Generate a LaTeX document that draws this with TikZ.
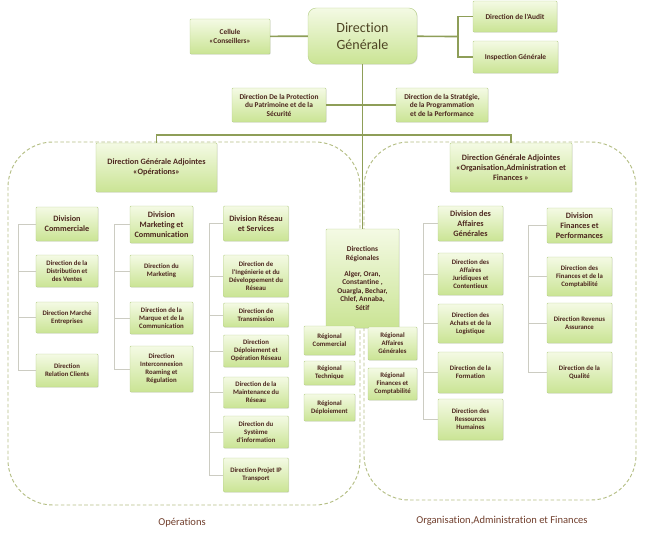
\documentclass[tikz,border=0pt]{standalone}
\usepackage{fontspec}
\newfontfamily\calib[Ligatures=NoCommon]{Carlito}
\usetikzlibrary{shadows}

\definecolor{boxTop}{RGB}{244,250,228}
\definecolor{boxBot}{RGB}{202,228,148}
\definecolor{boxLine}{RGB}{184,208,140}
\definecolor{ink}{RGB}{76,38,30}
\definecolor{chiefInk}{RGB}{78,68,36}
\definecolor{linkCol}{RGB}{142,158,88}
\definecolor{twigCol}{RGB}{204,204,194}
\definecolor{zoneCol}{RGB}{180,190,132}
\definecolor{capCol}{RGB}{112,62,44}

\begin{document}
\begin{tikzpicture}[
    x=0.03cm, y=-0.03cm,
    wh/.style 2 args={minimum width=#1*0.3mm, minimum height=#2*0.3mm},
    unit/.style={
        draw=boxLine,
        top color=boxTop,
        bottom color=boxBot,
        rounded corners=0.8pt,
        inner sep=1pt,
        align=center,
        text=ink,
        drop shadow={shadow xshift=0.6pt, shadow yshift=-0.6pt, opacity=0.25},
        font=\calib\bfseries\fontsize{5.8}{6.8}\selectfont
    },
    head/.style={
        unit,
        font=\calib\bfseries\fontsize{7}{8.5}\selectfont
    },
    mid/.style={
        unit,
        font=\calib\bfseries\fontsize{6.3}{7.3}\selectfont
    },
    chief/.style={
        unit,
        rounded corners=7pt,
        text=chiefInk,
        font=\calib\fontsize{12}{14.5}\selectfont
    },
    link/.style={
        draw=linkCol,
        line width=1.4pt
    },
    twig/.style={
        draw=twigCol,
        line width=0.6pt
    },
    zone/.style={
        draw=zoneCol,
        densely dashed,
        line width=0.8pt,
        rounded corners=1.35cm
    },
    caption/.style={
        font=\calib\fontsize{9}{11}\selectfont,
        text=capCol
    }
]
    \useasboundingbox (0,0) rectangle (649,532);

    % Zones
    \draw[zone] (8,142) rectangle (360,505);
    \draw[zone] (364,142) rectangle (636,500);
    \node[caption] (capOps) at (182,523) {Opérations};
    \node[caption] (capOrg) at (502,521) {Organisation,Administration et Finances};

    % Top level
    \node[chief, wh={109}{56}] (dg) at (362.5,36) {Direction\\Générale};
    \node[mid, wh={80}{35}] (cell) at (230,36.5) {Cellule\\«Conseillers»};
    \node[mid, wh={84}{31}] (audit) at (515,16.5) {Direction de l'Audit};
    \node[mid, wh={85}{32}] (insp) at (515.5,57) {Inspection Générale};
    \node[mid, wh={94}{34}] (prot) at (279,105) {Direction De la Protection\\du Patrimoine et de la\\Sécurité};
    \node[mid, wh={92}{34}] (strat) at (442,105) {Direction de la Stratégie,\\de la Programmation\\et de la Performance};
    \node[head, wh={121}{49}] (dgaOps) at (156.5,167.5) {Direction Générale Adjointes\\«Opérations»};
    \node[head, wh={122}{49}] (dgaOrg) at (511,167.5) {Direction Générale Adjointes\\«Organisation,Administration et\\Finances »};
    \node[mid, wh={73}{99}] (reg) at (362.5,278.5) {Directions\\Régionales\\[6pt]Alger, Oran,\\Constantine ,\\Ouargla, Bechar,\\Chlef, Annaba,\\Sétif};

    \coordinate (hub) at (458,36.5);
    \coordinate (split) at (362,135);
    \draw[link] (cell) -- (dg);
    \draw[link] (dg) -- (hub);
    \draw[link] (audit.west) -| (hub) |- (insp.west);
    \draw[link] (dg) -- (reg);
    \draw[link] (prot) -- (strat);
    \draw[link] (dgaOps.north) |- (split) -| (dgaOrg.north);

    % Operations, column 1
    \node[head, wh={62}{34}] (divCom) at (67,224) {Division\\Commerciale};
    \node[unit, wh={62}{32}] (dirDist) at (67,271) {Direction de la\\Distribution et\\des Ventes};
    \node[unit, wh={62}{31}] (dirEnt) at (67,317.5) {Direction Marché\\Entreprises};
    \node[unit, wh={62}{33}] (dirCli) at (67,370.5) {Direction\\Relation Clients};
    \coordinate (comSpine) at (18,224);

    % Operations, column 2
    \node[head, wh={63}{37}] (divMkt) at (161.5,224.5) {Division\\Marketing et\\Communication};
    \node[unit, wh={63}{32}] (dirMkt) at (161.5,271) {Direction du\\Marketing};
    \node[unit, wh={63}{32}] (dirMarq) at (161.5,318) {Direction de la\\Marque et de la\\Communication};
    \node[unit, wh={63}{46}] (dirInt) at (161.5,369) {Direction\\Interconnexion\\Roaming et\\Régulation};
    \coordinate (mktSpine) at (114,224.5);

    % Operations, column 3
    \node[head, wh={65}{35}] (divRes) at (256,223.5) {Division Réseau\\et Services};
    \node[unit, wh={65}{42}] (dirIng) at (256,276) {Direction de\\l'Ingénierie et du\\Développement du\\Réseau};
    \node[unit, wh={65}{24}] (dirTrans) at (256,315) {Direction de\\Transmission};
    \node[unit, wh={65}{32}] (dirDep) at (256,351) {Direction\\Déploiement et\\Opération Réseau};
    \node[unit, wh={65}{31}] (dirMaint) at (256,392.5) {Direction de la\\Maintenance du\\Réseau};
    \node[unit, wh={65}{32}] (dirSI) at (256,432) {Direction du\\Système\\d'information};
    \node[unit, wh={65}{34}] (dirIP) at (256,475) {Direction Projet IP\\Transport};
    \coordinate (resSpine) at (209,223.5);

    % Regional units
    \node[unit, wh={51}{29}] (regCom) at (329.5,340.5) {Régional\\Commercial};
    \node[unit, wh={51}{24}] (regTech) at (329.5,373) {Régional\\Technique};
    \node[unit, wh={51}{27}] (regDep) at (329.5,407.5) {Régional\\Déploiement};
    \node[unit, wh={49}{33}] (regAG) at (392.5,343.5) {Régional\\Affaires\\Générales};
    \node[unit, wh={49}{32}] (regFin) at (392.5,384) {Régional\\Finances et\\Comptabilité};

    % Organisation, column A
    \node[head, wh={65}{35}] (divAG) at (470.5,223.5) {Division des\\Affaires\\Générales};
    \node[unit, wh={65}{42}] (dirJur) at (470.5,274) {Direction des\\Affaires\\Juridiques et\\Contentieux};
    \node[unit, wh={65}{39}] (dirAch) at (470.5,323.5) {Direction des\\Achats et de la\\Logistique};
    \node[unit, wh={65}{41}] (dirForm) at (470.5,372.5) {Direction de la\\Formation};
    \node[unit, wh={65}{41}] (dirRH) at (470.5,419.5) {Direction des\\Ressources\\Humaines};
    \coordinate (agSpine) at (423,223.5);

    % Organisation, column B
    \node[head, wh={65}{35}] (divFin) at (579.5,225.5) {Division\\Finances et\\Performances};
    \node[unit, wh={65}{39}] (dirFin) at (579.5,276.5) {Direction des\\Finances et de la\\Comptabilité};
    \node[unit, wh={65}{40}] (dirRev) at (579.5,323) {Direction Revenus\\Assurance};
    \node[unit, wh={65}{41}] (dirQual) at (579.5,372.5) {Direction de la\\Qualité};
    \coordinate (finSpine) at (528,225.5);

    % Column spines
    \foreach \spine/\last/\kids in {
        comSpine/dirCli/{divCom,dirDist,dirEnt,dirCli},
        mktSpine/dirInt/{divMkt,dirMkt,dirMarq,dirInt},
        resSpine/dirIP/{divRes,dirIng,dirTrans,dirDep,dirMaint,dirSI,dirIP},
        agSpine/dirRH/{divAG,dirJur,dirAch,dirForm,dirRH},
        finSpine/dirQual/{divFin,dirFin,dirRev,dirQual}} {
        \draw[twig] (\spine) -- (\last.west -| \spine);
        \foreach \kid in \kids
            \draw[twig] (\kid.west) -- (\kid.west -| \spine);
    }

\end{tikzpicture}
\end{document}
